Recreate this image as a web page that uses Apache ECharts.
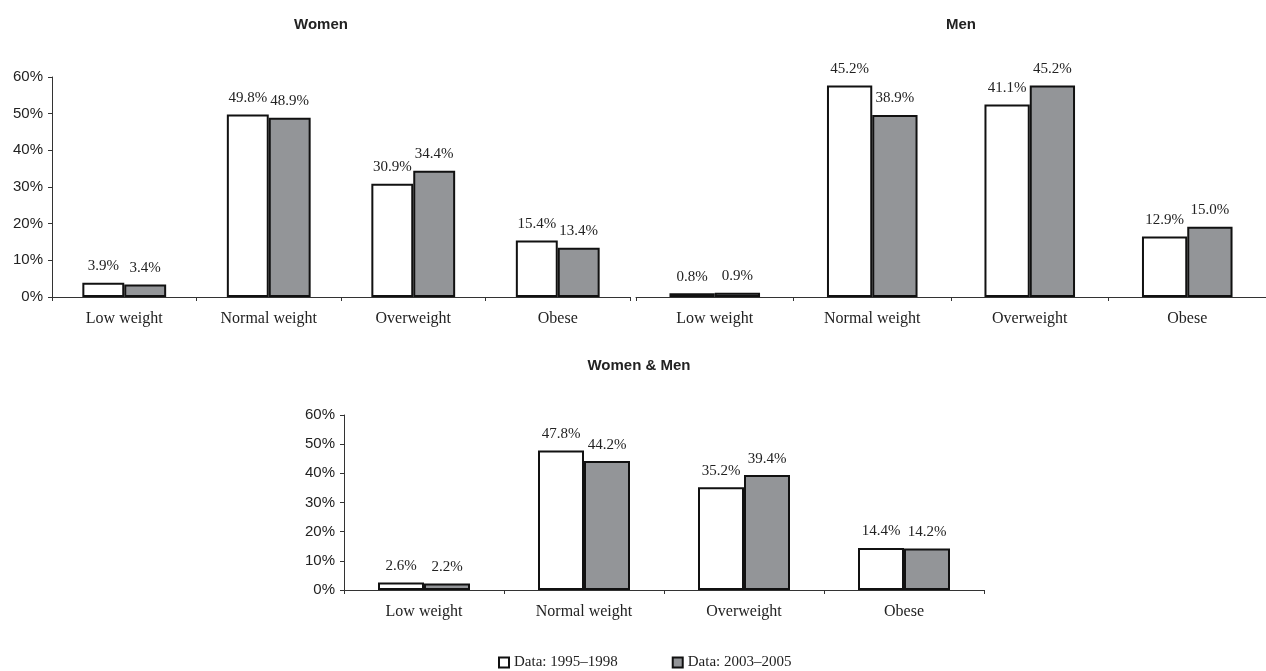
<!DOCTYPE html>
<html>
<head>
<meta charset="utf-8">
<script src="https://cdn.jsdelivr.net/npm/echarts@6/dist/echarts.min.js"></script>
<style>
  html, body { margin: 0; padding: 0; background: #fff; }
  #chart { width: 1266px; height: 671px; }
</style>
</head>
<body>
<div id="chart"></div>
<script>
// data
var categories = ['Low weight', 'Normal weight', 'Overweight', 'Obese'];
var women9598 = [3.9, 49.8, 30.9, 15.4];
var women0305 = [3.4, 48.9, 34.4, 13.4];
var men9598 = [0.8, 45.2, 41.1, 12.9];
var men0305 = [0.9, 38.9, 45.2, 15.0];
var all9598 = [2.6, 47.8, 35.2, 14.4];
var all0305 = [2.2, 44.2, 39.4, 14.2];
var seriesNames = ['Data: 1995\u20131998', 'Data: 2003\u20132005'];

var serif = '"Liberation Serif", "Times New Roman", serif';
var sans = '"Liberation Sans", Arial, sans-serif';
var ink = '#222';

function xAxis(gridIndex) {
  return {
    type: 'category',
    gridIndex: gridIndex,
    data: categories,
    axisLine: { lineStyle: { color: '#333', width: 1 } },
    axisTick: { show: true, length: 4, lineStyle: { color: '#333' } },
    axisLabel: { fontFamily: serif, fontSize: 16, color: ink, margin: 14 }
  };
}

function yAxis(gridIndex, max, visible) {
  return {
    type: 'value',
    gridIndex: gridIndex,
    min: 0,
    max: max,
    interval: 10,
    show: visible,
    splitLine: { show: false },
    axisLine: { show: true, lineStyle: { color: '#333', width: 1 } },
    axisTick: { show: true, length: 4, lineStyle: { color: '#333' } },
    axisLabel: { fontFamily: sans, fontSize: 15, color: ink, margin: 9, formatter: '{value}%' }
  };
}

function bars(name, data, idx, fill, gap) {
  return {
    name: name,
    type: 'bar',
    xAxisIndex: idx,
    yAxisIndex: idx,
    data: data,
    barGap: '0%',
    barCategoryGap: gap,
    itemStyle: { color: fill, borderColor: '#111', borderWidth: 2 },
    label: {
      show: true,
      position: 'top',
      distance: 9,
      fontFamily: serif,
      fontSize: 15,
      color: ink,
      formatter: function (p) { return p.value.toFixed(1) + '%'; }
    }
  };
}

var titleStyle = { fontFamily: sans, fontSize: 15, fontWeight: 'bold', color: ink };

var chart = echarts.init(document.getElementById('chart'));
chart.setOption({
  animation: false,
  title: [
    { text: 'Women', left: 316, top: 12, textAlign: 'center', textStyle: titleStyle },
    { text: 'Men', left: 956, top: 12, textAlign: 'center', textStyle: titleStyle },
    { text: 'Women & Men', left: 634, top: 353, textAlign: 'center', textStyle: titleStyle }
  ],
  legend: {
    left: 493,
    top: 650,
    icon: 'rect',
    itemWidth: 10,
    itemHeight: 10,
    itemGap: 54,
    textStyle: { fontFamily: serif, fontSize: 15, color: ink },
    data: seriesNames
  },
  grid: [
    { left: 52, top: 77, width: 578, height: 220 },
    { left: 636, top: 77, width: 640, height: 220 },
    { left: 344, top: 415, width: 640, height: 175 }
  ],
  xAxis: [xAxis(0), xAxis(1), xAxis(2)],
  yAxis: [yAxis(0, 60, true), yAxis(1, 47, false), yAxis(2, 60, true)],
  series: [
    bars(seriesNames[0], women9598, 0, '#ffffff', '42%'),
    bars(seriesNames[1], women0305, 0, '#939598', '42%'),
    bars(seriesNames[0], men9598, 1, '#ffffff', '42.5%'),
    bars(seriesNames[1], men0305, 1, '#939598', '42.5%'),
    bars(seriesNames[0], all9598, 2, '#ffffff', '42.5%'),
    bars(seriesNames[1], all0305, 2, '#939598', '42.5%')
  ]
});
</script>
</body>
</html>
